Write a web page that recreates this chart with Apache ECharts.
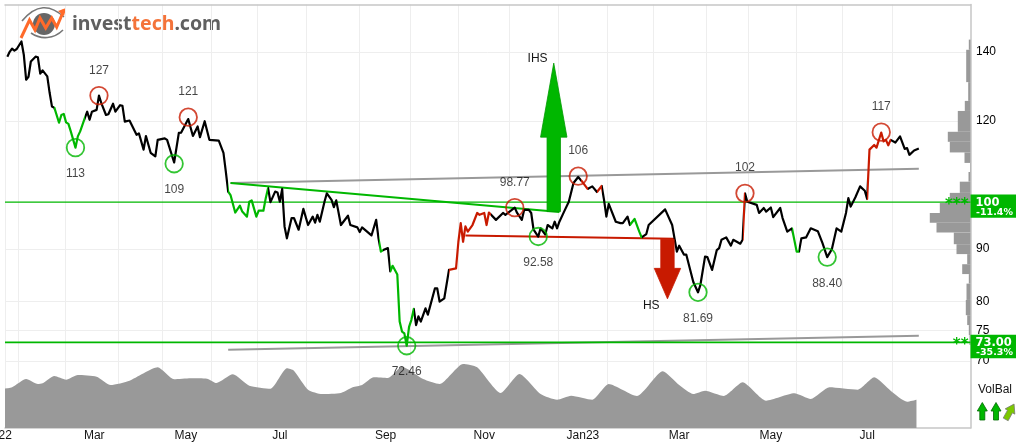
<!DOCTYPE html>
<html><head><meta charset="utf-8">
<style>html,body{margin:0;padding:0;background:#fff;overflow:hidden}#c{width:1020px;height:448px}</style>
<script src="https://cdn.jsdelivr.net/npm/echarts@6/dist/echarts.min.js"></script>
</head><body><div id="c"></div>
<script>
// trading-session number since the chart's start, and price read at that session
const sessions=[1,2,3,4,5,7,8,9,10,11,13,14,15,16,18,19,20,21,23,24,25,26,27,28,30,31,32,34,35,36,37,39,40,41,43,44,46,47,49,50,51,53,56,57,59,60,62,64,65,68,69,72,74,75,78,80,82,83,85,87,91,93,94,95,96,98,100,101,103,104,105,107,108,110,111,112,113,115,116,117,118,119,120,122,123,125,127,129,131,132,133,134,136,137,139,140,141,143,146,147,150,151,152,156,158,159,160,161,163,164,165,167,168,169,170,171,172,173,174,175,176,177,179,180,183,184,185,187,189,192,193,194,195,196,197,199,201,202,204,205,206,209,212,213,217,218,220,221,223,224,225,227,228,230,231,233,234,235,236,238,240,242,244,246,248,250,252,254,255,256,257,260,262,263,265,266,268,270,271,273,274,281,284,285,286,287,289,290,293,295,296,298,299,301,303,304,305,307,309,310,313,314,315,316,320,321,323,324,326,327,330,331,333,335,337,338,339,341,343,346,348,350,352,354,356,358,359,360,362,364,366,367,368,370,371,373,374,375,376,377,379,381,383,384,385,387,389];
const closes=[138.6,140.1,141.1,140.5,141,143.4,139.2,131.6,132.5,137.1,138.6,138.4,133.4,134.4,132.6,127.8,123.9,123.6,119.5,121.6,121.9,119.6,119.2,117.2,113,115.9,117.2,120.8,122.5,120.3,122.5,123,127,124.9,121.6,121.8,124.7,122.5,124.3,124.1,119.8,120.1,116.3,116.7,112.5,116,111.7,110.8,115,115.4,115,109.3,116.8,116.9,120.5,116,118.5,115.7,119.9,115,114.8,111.7,107.1,102.4,101.6,97.7,99.2,97.9,96.8,100.1,100.4,96.8,98.1,98.1,100.9,103.2,100,102.4,102.2,100.1,103,94.7,92.2,96.5,96.5,94,98.5,95,96.8,95.5,97.2,95.7,100.1,102,100.5,98.9,100.4,95,97,95,94.5,93.5,94.5,92.8,96.1,92.2,89.5,89.8,90.2,85.6,86.7,85,76.5,74.8,74.5,72.46,75.6,76.8,78.7,75.9,77.4,76.5,78.8,77.7,82.4,82.4,80,80.6,85.9,86.2,91.5,95.4,91.5,94.7,93.6,95,97.6,97.2,97.6,95,97.7,96.1,97.6,97.2,98.77,97.6,96.1,98.3,98.3,97.6,94,92.58,94.3,93,95,94.3,95.7,94.3,95.7,97.9,100.1,104.4,105.8,104.5,103,103.6,102.3,103.7,100.5,96.8,99.6,95.7,95.4,95.4,96.8,95,96.3,93.6,92.4,93.1,95,98.4,95,92.2,89.5,90.7,88.9,88.9,83.6,81.69,83,88.5,88.4,85.9,89.8,90.2,91.9,92.4,90.7,91.9,91.1,91.9,102,100.1,99.4,97.6,98.7,97.9,98.8,96.7,98.7,96.5,93.6,94.3,89.5,89.5,92.2,92.4,94.3,93.7,91.2,88.4,90,94.3,93.6,97.6,100.9,99,101.1,103.6,102.6,100.7,112.5,113.7,113,116.9,114.6,115,113.6,115,114.3,115.9,112.7,112.9,111.2,112.3,112.8];
// session ranges with signal colouring
const greenRanges=[[21,34],[95,112],[159,161],[164,174],[266,271],[335,338]];
const redRanges=[[189,207],[245,248],[252,254],[314,315],[367,377]];
// volume balance index
const volSessions=[0,3,9,14,16,21,26,31,39,45,53,65,72,79,86,90,97,104,113,120,123,129,135,143,148,152,157,163,169,178,185,195,201,211,219,228,235,241,250,257,269,280,287,293,298,306,314,324,336,343,351,363,370,377,384,388];
const volBalance=[39.3,40.7,49,44,44.7,52,48.3,53,51.3,43,47.3,60.7,48.7,49.7,49.3,45,53.7,42.3,39.3,59.7,57.3,38.3,34,35,40.7,43,50.7,50,61.3,49,44,64,60.7,35,54,34,28.3,32.3,28.3,44,32,56.7,43,34,37.3,32,45.7,27.3,34.7,29,40.7,38.3,50.7,37.3,26.3,28.3];
// horizontal price distribution: bin top, bin bottom, amount
const histTop=[144,140.75,130.9,125.5,122.7,117.1,114.5,111.8,109.2,107,104.7,102.1,99.8,97.6,95.5,93.4,91,89,87,85.1,83.3,80.3,77.6,75.9,74.2];
const histBottom=[140.75,130.9,125.5,122.7,117.1,114.5,111.8,109.2,107,104.7,102.1,99.8,97.6,95.5,93.4,91,89,87,85.1,83.3,80.3,77.6,75.9,74.2,72.6];
const histAmount=[1.7,4.3,2.3,5.7,12.7,22.7,20.7,6,0.5,2,10.7,20.7,30.7,40.7,34,16.7,14,3.3,8.3,1.7,4,4.7,3.3,1.7,1];
// axis ticks
const monthStarts=[0,5.7,25.7,48.3,67,87.7,107.2,128.1,150.6,172.6,193,214.6,235.6,256.2,275.9,298.6,316.2,337,356.6,377.7];
const monthLabelAt=[0,38,77,117,162,204,246,287,326,367];
const monthLabels=['Jan22','Mar','May','Jul','Sep','Nov','Jan23','Mar','May','Jul'];
const priceTicks=[70,75,80,90,120,140];
// swing tops and bottoms
const topSessions=[40,78,217,244,315,373];
const topPrices=[127,121,98.77,106,102,117];
const bottomSessions=[30,72,171,227,295,350];
const bottomPrices=[113,109,72.46,92.58,81.69,88.40];
const topNames=['127','121','98.77','106','102','117'];
const bottomNames=['113','109','72.46','92.58','81.69','88.40'];
// trend lines [startSession,startPrice,endSession,endPrice]
const upperChannel=[96,104.4,389,107.8];
const lowerChannel=[95,71.8,389,74.1];
const ihsNeckline=[96,104.4,236,97.8];
const hsNeckline=[196,92.8,285,92.1];
// pattern targets
const arrowNames=['IHS','HS'];
const arrowSessions=[233.6,282];
const arrowBase=[97.9,92];
const arrowNeck=[115.7,86.2];
const arrowTip=[136.6,80.5];
// support levels
const levelPrices=[100,73];
const levelTexts=['100','73.00'];
const levelPct=['-11.4%','-35.3%'];
const levelStars=['***','**'];

const GREEN='#00b700',RED='#c81a00',GRID='#eeeeee',BORDER='#c6c6c6',AREA='#999999',TXT='#151515';
const FONT='"Liberation Sans",Arial,sans-serif';
const XMAX=411;
const pieces=[...greenRanges.map(r=>({min:r[0],max:r[1],color:GREEN})),...redRanges.map(r=>({min:r[0],max:r[1],color:RED}))].sort((a,b)=>a.min-b.min);
const zip=(a,b)=>a.map((v,i)=>[v,b[i]]);
const seg=(t,color,width,z)=>({type:'line',xAxisIndex:0,yAxisIndex:0,data:[[t[0],t[1]],[t[2],t[3]]],symbol:'none',silent:true,lineStyle:{color,width},z});

const option={
 animation:false,
 textStyle:{fontFamily:FONT},
 grid:[
  {left:5,right:49.5,top:4.5,height:423.5,show:false,outerBoundsMode:'none',containLabel:false},
  {left:5,right:49.5,top:328,height:100,show:false,outerBoundsMode:'none'}
 ],
 xAxis:[
  {type:'value',gridIndex:0,min:0,max:XMAX,position:'bottom',
   axisLine:{show:true,onZero:false,lineStyle:{color:BORDER,width:1.5}},
   axisTick:{show:false,customValues:monthStarts},
   splitLine:{show:true,lineStyle:{color:GRID,width:1}},
   axisLabel:{customValues:monthLabelAt,margin:1.5,fontSize:12,color:TXT,fontFamily:FONT,hideOverlap:false,
    formatter:v=>{const i=monthLabelAt.indexOf(v);return i===0?'{a|'+monthLabels[0]+'}':monthLabels[i];},
    rich:{a:{fontSize:12,color:TXT,fontFamily:FONT,padding:[0,19,0,0]}}}},
  {type:'value',gridIndex:0,min:0,max:965.5,inverse:true,position:'top',
   axisLine:{show:true,onZero:false,lineStyle:{color:BORDER,width:1.5}},
   axisTick:{show:false},splitLine:{show:false},axisLabel:{show:false}},
  {type:'value',gridIndex:1,min:0,max:XMAX,show:false,splitLine:{show:false}}
 ],
 yAxis:[
  {type:'log',gridIndex:0,min:60.25,max:155.8,position:'right',logBase:10,
   axisLine:{show:true,onZero:false,lineStyle:{color:BORDER,width:1.5}},
   axisTick:{show:false,customValues:priceTicks},
   splitLine:{show:true,lineStyle:{color:GRID,width:1}},minorSplitLine:{show:false},
   axisLabel:{customValues:priceTicks,margin:5.5,fontSize:12,color:'#000',fontFamily:FONT,hideOverlap:false,padding:[2,0,0,0],formatter:v=>String(Math.round(v))}},
  {type:'value',gridIndex:1,min:0,max:100,show:false,splitLine:{show:false}}
 ],
 visualMap:{show:false,type:'piecewise',seriesIndex:0,dimension:0,pieces,outOfRange:{color:'#000000'}},
 series:[
  {name:'Close',type:'line',xAxisIndex:0,yAxisIndex:0,data:zip(sessions,closes),symbol:'none',silent:true,lineStyle:{width:2.2,join:'round'},z:6},
  {name:'VolBal',type:'line',xAxisIndex:2,yAxisIndex:1,data:zip(volSessions,volBalance),symbol:'none',silent:true,smooth:0.2,lineStyle:{width:0,color:AREA},areaStyle:{color:AREA,opacity:1},z:1},
  seg(upperChannel,'#999999',2,3),seg(lowerChannel,'#999999',2,3),seg(ihsNeckline,GREEN,2,4),seg(hsNeckline,RED,2,4),
  ...levelPrices.map((p,i)=>seg([0,p,XMAX,p],GREEN,i===0?1.2:1.8,5)),
  {name:'Distribution',type:'custom',xAxisIndex:1,yAxisIndex:0,silent:true,z:2,clip:false,
   data:histAmount.map((a,i)=>[a,histTop[i],histBottom[i]]),encode:{x:0,y:1},
   renderItem:(p,api)=>{const a=api.coord([api.value(0),api.value(1)]),b=api.coord([0,api.value(2)]);
    return {type:'rect',shape:{x:a[0],y:a[1],width:b[0]-a[0],height:b[1]-a[1]},style:{fill:AREA}};}},
  {name:'Pattern targets',type:'custom',xAxisIndex:0,yAxisIndex:0,silent:true,z:7,clip:false,
   data:arrowSessions.map((s,i)=>[s,arrowBase[i],arrowNeck[i],arrowTip[i]]),encode:{x:0,y:3},
   renderItem:(p,api)=>{const i=p.dataIndex,s=api.value(0),b=api.coord([s,api.value(1)]),n=api.coord([s,api.value(2)]),t=api.coord([s,api.value(3)]);
    const x=b[0],hs=6.7,hh=13.2,up=i===0;const fill=up?GREEN:RED,stroke=up?'#009a00':RED;
    return {type:'group',children:[
     {type:'polygon',shape:{points:[[x-hs,b[1]],[x-hs,n[1]],[x-hh,n[1]],[x,t[1]],[x+hh,n[1]],[x+hs,n[1]],[x+hs,b[1]]]},style:{fill,stroke,lineWidth:0.8}},
     {type:'text',style:{text:arrowNames[i],x:x-16.2,y:t[1]+(up?-4.6:6.7),align:'center',verticalAlign:'middle',fill:TXT,font:'12px '+FONT}}]};}},
  {name:'Tops',type:'scatter',xAxisIndex:0,yAxisIndex:0,silent:true,z:8,symbol:'circle',symbolSize:17.5,
   data:topSessions.map((s,i)=>({value:[s,topPrices[i]],name:topNames[i]})),
   itemStyle:{color:'transparent',borderColor:RED,borderWidth:1.8},
   label:{show:true,position:'top',distance:9.5,formatter:'{b}',fontSize:12,color:TXT,fontFamily:FONT}},
  {name:'Bottoms',type:'scatter',xAxisIndex:0,yAxisIndex:0,silent:true,z:8,symbol:'circle',symbolSize:17.5,
   data:bottomSessions.map((s,i)=>({value:[s,bottomPrices[i]],name:bottomNames[i]})),
   itemStyle:{color:'transparent',borderColor:GREEN,borderWidth:1.8},
   label:{show:true,position:'bottom',distance:10.5,formatter:'{b}',fontSize:12,color:TXT,fontFamily:FONT}},
  {name:'Levels',type:'custom',xAxisIndex:0,yAxisIndex:0,silent:true,z:9,clip:false,
   data:levelPrices.map(p=>[XMAX,p]),encode:{x:0,y:1},
   renderItem:(p,api)=>{const i=p.dataIndex,c=api.coord([api.value(0),api.value(1)]),x=c[0],y=c[1];
    const dv='"DejaVu Sans",sans-serif';
    return {type:'group',children:[
     {type:'rect',shape:{x:x,y:y-7.7,width:45.5,height:23.4},style:{fill:GREEN}},
     {type:'text',style:{text:levelStars[i],x:x-2,y:y+3,align:'right',verticalAlign:'middle',fill:GREEN,font:'bold 15px '+dv}},
     {type:'text',style:{text:levelTexts[i],x:x+5,y:y+0.6,align:'left',verticalAlign:'middle',fill:'#fff',font:'bold 11.5px '+dv}},
     {type:'text',style:{text:levelPct[i],x:x+5.5,y:y+10.2,align:'left',verticalAlign:'middle',fill:'#fff',font:'bold 9.5px '+dv}}]};}}
 ],
 graphic:[
  {type:'group',silent:true,z:20,children:[
   {type:'circle',shape:{cx:44,cy:24,r:11},style:{fill:'#666666'}},
   {type:'bezierCurve',shape:{x1:22,y1:21,x2:64,y2:17,cpx1:36,cpy1:4,cpx2:50,cpy2:4},style:{fill:'none',stroke:'#777777',lineWidth:1.6}},
   {type:'bezierCurve',shape:{x1:31,y1:33,x2:63,y2:30,cpx1:41,cpy1:40,cpx2:54,cpy2:39},style:{fill:'none',stroke:'#777777',lineWidth:1.6}},
   {type:'polyline',shape:{points:[[21,38],[29.5,20],[35,30],[40,18],[45.7,28],[51.7,18],[56.7,27],[64,10]]},style:{fill:'none',stroke:'#ff6a2a',lineWidth:3}},
   {type:'polygon',shape:{points:[[66,8],[58,11],[64,16]]},style:{fill:'#ff6a2a'}},
   {type:'text',x:72,y:24.5,style:{text:'{a|invest}{b|tech}{a|.com}',verticalAlign:'middle',align:'left',
     rich:{a:{font:'bold 19.5px "Noto Sans"',fill:'#606060'},b:{font:'bold 19.5px "Noto Sans"',fill:'#f4733a'}}}}
  ]},
  {type:'text',x:995,y:389.7,silent:true,style:{text:'VolBal',align:'center',verticalAlign:'middle',fill:TXT,font:'12px '+FONT}},
  ...[982.3,996].map(x=>({type:'polygon',silent:true,shape:{points:[[x-2.5,420],[x-2.5,411],[x-5,411],[x,402.5],[x+5,411],[x+2.5,411],[x+2.5,420]]},style:{fill:GREEN,stroke:'#006a00',lineWidth:0.8}})),
  {type:'polygon',silent:true,x:1010,y:411.5,rotation:-0.5,shape:{points:[[-2.8,9],[-2.8,0],[-5.5,0],[0,-8.5],[5.5,0],[2.8,0],[2.8,9]]},style:{fill:'#7cc800',stroke:'#777',lineWidth:0.7}}
 ]
};
echarts.init(document.getElementById('c'),null,{renderer:'canvas'}).setOption(option);
</script></body></html>
